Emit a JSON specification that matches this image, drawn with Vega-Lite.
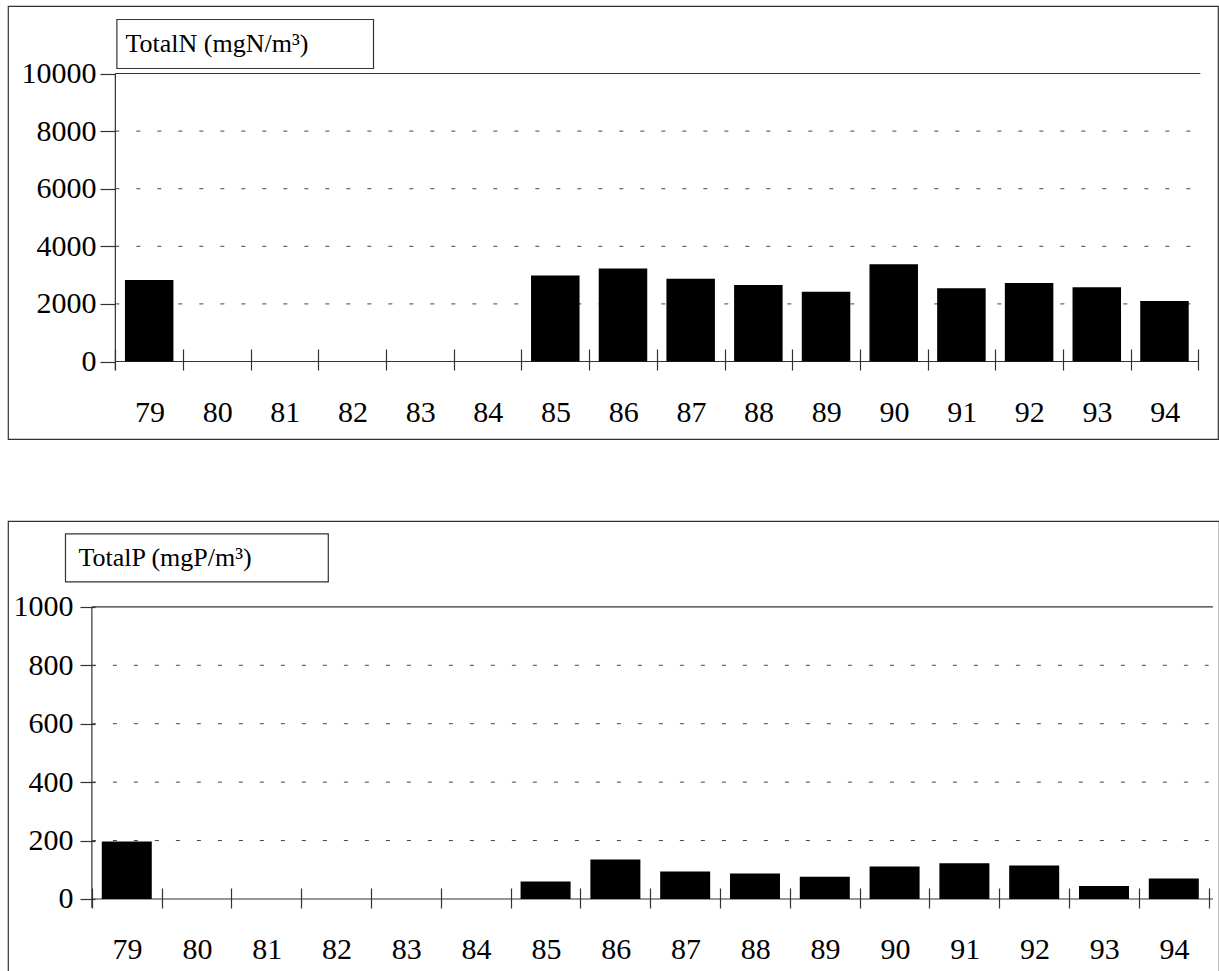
{
  "$schema": "https://vega.github.io/schema/vega-lite/v6.json",
  "padding": {"left": 7, "top": 5, "right": 0, "bottom": 0},
  "background": "white",
  "config": {
    "view": {"stroke": "#333", "strokeWidth": 1.2},
    "axis": {"labelFont": "Liberation Serif", "labelFontSize": 30, "labelColor": "black", "tickColor": "#333", "tickWidth": 1.2, "domain": false, "grid": false},
    "text": {"font": "Liberation Serif", "color": "black"}
  },
  "datasets": {
    "totalN": [
      {"year": 79, "value": 2830},
      {"year": 85, "value": 2990},
      {"year": 86, "value": 3230},
      {"year": 87, "value": 2870},
      {"year": 88, "value": 2660},
      {"year": 89, "value": 2420},
      {"year": 90, "value": 3380},
      {"year": 91, "value": 2540},
      {"year": 92, "value": 2730},
      {"year": 93, "value": 2580},
      {"year": 94, "value": 2100}
    ],
    "totalP": [
      {"year": 79, "value": 197},
      {"year": 85, "value": 60},
      {"year": 86, "value": 135},
      {"year": 87, "value": 94},
      {"year": 88, "value": 87},
      {"year": 89, "value": 76},
      {"year": 90, "value": 111},
      {"year": 91, "value": 122},
      {"year": 92, "value": 115},
      {"year": 93, "value": 44},
      {"year": 94, "value": 70}
    ]
  },
  "spacing": 80,
  "vconcat": [
    {
      "width": 1210,
      "height": 433,
      "layer": [
        {
          "data": {"values": [{}]},
          "mark": {"type": "rule", "color": "#444", "strokeWidth": 1, "strokeDash": [4, 17]},
          "encoding": {"x": {"datum": 78.5}, "x2": {"datum": 94.5}, "y": {"datum": 2000}}
        },
        {
          "data": {"values": [{}]},
          "mark": {"type": "rule", "color": "#444", "strokeWidth": 1, "strokeDash": [4, 17]},
          "encoding": {"x": {"datum": 78.5}, "x2": {"datum": 94.5}, "y": {"datum": 4000}}
        },
        {
          "data": {"values": [{}]},
          "mark": {"type": "rule", "color": "#444", "strokeWidth": 1, "strokeDash": [4, 17]},
          "encoding": {"x": {"datum": 78.5}, "x2": {"datum": 94.5}, "y": {"datum": 6000}}
        },
        {
          "data": {"values": [{}]},
          "mark": {"type": "rule", "color": "#444", "strokeWidth": 1, "strokeDash": [4, 17]},
          "encoding": {"x": {"datum": 78.5}, "x2": {"datum": 94.5}, "y": {"datum": 8000}}
        },
        {
          "data": {"values": [{}]},
          "mark": {"type": "rule", "color": "#333", "strokeWidth": 1.2},
          "encoding": {"x": {"datum": 78.5}, "x2": {"datum": 94.53}, "y": {"datum": 10000}}
        },
        {
          "data": {"values": [{}]},
          "mark": {"type": "rule", "color": "#333", "strokeWidth": 1.2},
          "encoding": {"x": {"datum": 78.5}, "x2": {"datum": 94.5}, "y": {"datum": 0}}
        },
        {
          "data": {"values": [{}]},
          "mark": {"type": "rule", "color": "#333", "strokeWidth": 1.2},
          "encoding": {"x": {"datum": 78.5}, "y": {"datum": -300}, "y2": {"datum": 10000}}
        },
        {
          "data": {"name": "totalN"},
          "mark": {"type": "bar", "color": "black", "width": 48.5},
          "encoding": {
            "x": {
              "field": "year", "type": "quantitative",
              "scale": {"domain": [76.988, 94.717], "nice": false, "zero": false},
              "axis": {
                "title": null,
                "values": [78.5, 79.5, 80.5, 81.5, 82.5, 83.5, 84.5, 85.5, 86.5, 87.5, 88.5, 89.5, 90.5, 91.5, 92.5, 93.5, 94.5],
                "offset": -90, "tickSize": 21, "labelPadding": 51, "labelBaseline": "alphabetic",
                "labelOffset": 34.1, "labelOverlap": false, "labelBound": false, "labelFlush": false,
                "labelExpr": "datum.value < 94 ? format(datum.value + 0.5, 'd') : ''"
              }
            },
            "y": {
              "field": "value", "type": "quantitative",
              "scale": {"domain": [-2691, 12344], "nice": false, "zero": false},
              "axis": {
                "title": null, "format": "d",
                "values": [0, 2000, 4000, 6000, 8000, 10000],
                "offset": -107, "tickSize": 15, "labelPadding": 4, "labelOverlap": false, "labelBound": false, "labelFlush": false
              }
            },
            "y2": {"datum": 0}
          }
        },
        {
          "data": {"values": [{}]},
          "mark": {"type": "rect", "fill": "white", "stroke": "#333", "strokeWidth": 1.2},
          "encoding": {"x": {"datum": 78.523}, "x2": {"datum": 82.314}, "y": {"datum": 10174}, "y2": {"datum": 11875}}
        },
        {
          "data": {"values": [{}]},
          "mark": {"type": "text", "align": "left", "baseline": "middle", "fontSize": 26, "font": "Liberation Serif", "color": "black"},
          "encoding": {"x": {"datum": 78.65}, "y": {"datum": 11024}, "text": {"value": "TotalN (mgN/m³)"}}
        }
      ]
    },
    {
      "width": 1211,
      "height": 451,
      "layer": [
        {
          "data": {"values": [{}]},
          "mark": {"type": "rule", "color": "#444", "strokeWidth": 1, "strokeDash": [4, 17]},
          "encoding": {"x": {"datum": 78.5}, "x2": {"datum": 94.5}, "y": {"datum": 200}}
        },
        {
          "data": {"values": [{}]},
          "mark": {"type": "rule", "color": "#444", "strokeWidth": 1, "strokeDash": [4, 17]},
          "encoding": {"x": {"datum": 78.5}, "x2": {"datum": 94.5}, "y": {"datum": 400}}
        },
        {
          "data": {"values": [{}]},
          "mark": {"type": "rule", "color": "#444", "strokeWidth": 1, "strokeDash": [4, 17]},
          "encoding": {"x": {"datum": 78.5}, "x2": {"datum": 94.5}, "y": {"datum": 600}}
        },
        {
          "data": {"values": [{}]},
          "mark": {"type": "rule", "color": "#444", "strokeWidth": 1, "strokeDash": [4, 17]},
          "encoding": {"x": {"datum": 78.5}, "x2": {"datum": 94.5}, "y": {"datum": 800}}
        },
        {
          "data": {"values": [{}]},
          "mark": {"type": "rule", "color": "#333", "strokeWidth": 1.2},
          "encoding": {"x": {"datum": 78.5}, "x2": {"datum": 94.56}, "y": {"datum": 1000}}
        },
        {
          "data": {"values": [{}]},
          "mark": {"type": "rule", "color": "#333", "strokeWidth": 1.2},
          "encoding": {"x": {"datum": 78.5}, "x2": {"datum": 94.56}, "y": {"datum": 0}}
        },
        {
          "data": {"values": [{}]},
          "mark": {"type": "rule", "color": "#333", "strokeWidth": 1.2},
          "encoding": {"x": {"datum": 78.5}, "y": {"datum": -30}, "y2": {"datum": 1000}}
        },
        {
          "data": {"name": "totalP"},
          "mark": {"type": "bar", "color": "black", "width": 50},
          "encoding": {
            "x": {
              "field": "year", "type": "quantitative",
              "scale": {"domain": [77.37, 94.576], "nice": false, "zero": false},
              "axis": {
                "title": null,
                "values": [78.5, 79.5, 80.5, 81.5, 82.5, 83.5, 84.5, 85.5, 86.5, 87.5, 88.5, 89.5, 90.5, 91.5, 92.5, 93.5, 94.5],
                "offset": -84, "tickSize": 20, "labelPadding": 50, "labelBaseline": "alphabetic",
                "labelOffset": 35.2, "labelOverlap": false, "labelBound": false, "labelFlush": false,
                "labelExpr": "datum.value < 94 ? format(datum.value + 0.5, 'd') : ''"
              }
            },
            "y": {
              "field": "value", "type": "quantitative",
              "scale": {"domain": [-250, 1294], "nice": false, "zero": false},
              "axis": {
                "title": null, "format": "d",
                "values": [0, 200, 400, 600, 800, 1000],
                "offset": -87, "tickSize": 15, "labelPadding": 7, "labelOverlap": false, "labelBound": false, "labelFlush": false
              }
            },
            "y2": {"datum": 0}
          }
        },
        {
          "data": {"values": [{}]},
          "mark": {"type": "rect", "fill": "white", "stroke": "#333", "strokeWidth": 1.2},
          "encoding": {"x": {"datum": 78.122}, "x2": {"datum": 81.887}, "y": {"datum": 1085.6}, "y2": {"datum": 1250}}
        },
        {
          "data": {"values": [{}]},
          "mark": {"type": "text", "align": "left", "baseline": "middle", "fontSize": 26, "font": "Liberation Serif", "color": "black"},
          "encoding": {"x": {"datum": 78.307}, "y": {"datum": 1168}, "text": {"value": "TotalP (mgP/m³)"}}
        }
      ]
    }
  ]
}
